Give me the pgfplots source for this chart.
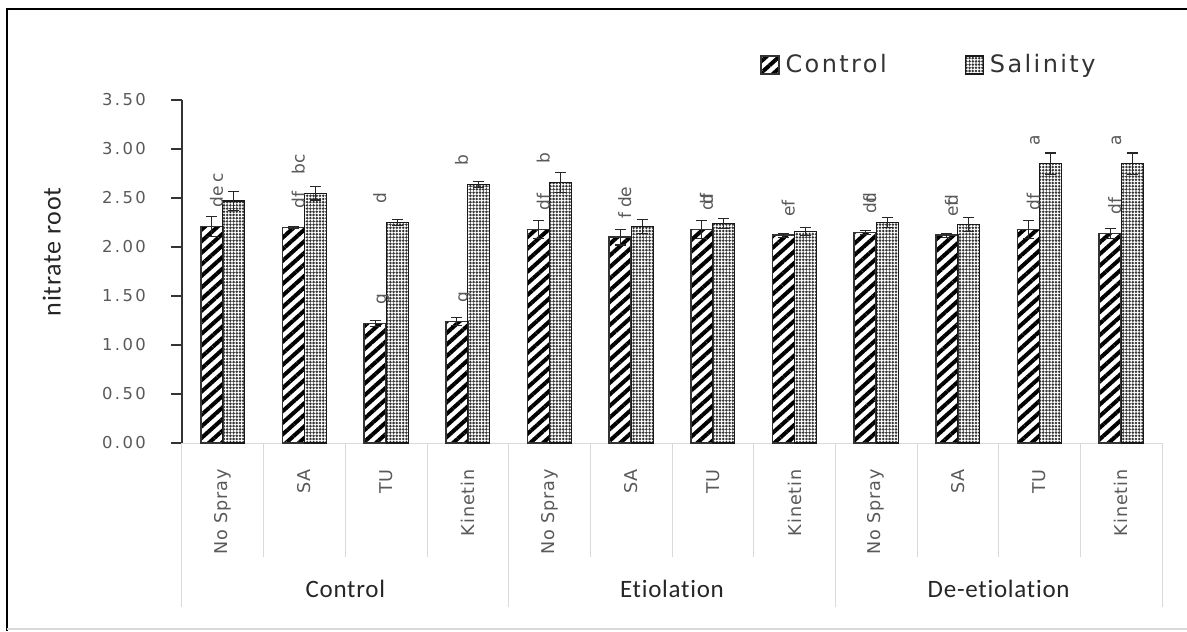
\documentclass[border=0pt]{standalone}
\usepackage{pgfplots}
\pgfplotsset{compat=1.18}
\usepackage{pgfplotstable}
\usepackage{fontspec}
\usetikzlibrary{patterns.meta}
\newfontfamily\tickf[LetterSpace=15]{DejaVu Sans}
\newfontfamily\legf[LetterSpace=10]{DejaVu Sans}
\newfontfamily\letf{DejaVu Sans}
\newfontfamily\catf[LetterSpace=5]{DejaVu Sans}
\newfontfamily\grpf[LetterSpace=3,Ligatures=NoCommon]{Carlito}
\definecolor{txt}{HTML}{595959}
\definecolor{sep}{HTML}{D9D9D9}

\pgfplotstableread{
x y e lab
0 2.21 0.10 de
1 2.20 0.01 df
2 1.22 0.03 g
3 1.24 0.04 g
4 2.18 0.09 df
5 2.10 0.08 f
6 2.18 0.09 df
7 2.12 0.02 ef
8 2.15 0.02 df
9 2.12 0.02 ef
10 2.18 0.09 df
11 2.14 0.05 df
}\ctrl

\pgfplotstableread{
x y e lab
0 2.47 0.10 c
1 2.55 0.07 bc
2 2.25 0.03 d
3 2.64 0.03 b
4 2.66 0.10 b
5 2.21 0.07 de
6 2.24 0.05 d
7 2.16 0.04 {}
8 2.25 0.05 d
9 2.23 0.07 d
10 2.85 0.11 a
11 2.85 0.11 a
}\sal

\begin{document}
\begin{tikzpicture}
\useasboundingbox (-91pt,-94pt) rectangle (502.5pt,221.5pt);
\draw[black, line width=1pt] (-87.5pt,-94pt) -- (-87.5pt,217pt) -- (502.5pt,217pt);
\draw[sep, line width=0.75pt] (-87.5pt,-93pt) -- (502.5pt,-93pt);
\begin{axis}[
  at={(0,0)}, anchor=south west,
  scale only axis, width=490pt, height=171.5pt,
  xmin=-0.5, xmax=11.5, ymin=0, ymax=3.5,
  ybar=0pt, bar width=11pt,
  axis x line*=bottom, axis y line*=left,
  x axis line style={sep, line width=0.5pt},
  y axis line style={black!80, line width=0.6pt},
  xtick={0,...,11},
  xticklabels={No Spray,SA,TU,Kinetin,No Spray,SA,TU,Kinetin,No Spray,SA,TU,Kinetin},
  x tick style={draw=none},
  xticklabel style={yshift=-7.5pt, rotate=90, anchor=east, inner sep=0pt, font=\catf\fontsize{8.8}{10}\selectfont, text=txt},
  ytick={0,0.5,1,1.5,2,2.5,3,3.5},
  y tick style={black!80, line width=0.6pt},
  tick align=outside, major tick length=5.5pt,
  yticklabel style={/pgf/number format/.cd, fixed, fixed zerofill, precision=2, assume math mode=true, /tikz/.cd, font=\tickf\fontsize{8.2}{9}\selectfont, text=txt, xshift=-9pt},
  ylabel={nitrate root},
  every axis y label/.style={at={(axis description cs:-0.133,0.557)}, rotate=90, anchor=center, font=\grpf\fontsize{13}{15}\selectfont, text=black!85},
  clip=false,
  nodes near coords, point meta=explicit symbolic,
  every node near coord/.style={yshift=9pt, rotate=90, anchor=base west, inner sep=0pt, font=\letf\fontsize{8.5}{9}\selectfont, text=txt},
  legend style={draw=none, fill=none, legend columns=2, at={(rel axis cs:0.763,1.102)}, anchor=center, font=\legf\fontsize{12}{14}\selectfont, text=black!80, /tikz/every even column/.append style={column sep=37pt}},
  legend image code/.code={\draw[#1] (0pt,-4.5pt) rectangle (9pt,4.5pt);},
  error bars/error bar style={line width=0.6pt, black!85},
  error bars/error mark options={line width=0.6pt, black!85, mark size=2.75pt, rotate=90},
]
\addplot[draw=black!80, line width=0.75pt, pattern={Lines[angle=42,distance=4.3pt,line width=2pt]}, pattern color=black,
  error bars/.cd, y dir=both, y explicit]
  table[x=x, y=y, y error=e, meta=lab] {\ctrl};
\addlegendentry{\hspace{1pt}Control}
\addplot[draw=black!90, line width=0.6pt, pattern={Dots[distance=1.6pt,radius=0.7pt]}, pattern color=black!80,
  error bars/.cd, y dir=both, y explicit]
  table[x=x, y=y, y error=e, meta=lab] {\sal};
\addlegendentry{\hspace{1pt}Salinity}
\pgfplotsinvokeforeach{0.5,1.5,2.5,4.5,5.5,6.5,8.5,9.5,10.5}{\draw[sep, line width=0.5pt] (axis cs:#1,0) -- ([yshift=-57pt]axis cs:#1,0);}
\pgfplotsinvokeforeach{-0.5,3.5,7.5,11.5}{\draw[sep, line width=0.5pt] (axis cs:#1,0) -- ([yshift=-82pt]axis cs:#1,0);}
\node[font=\grpf\fontsize{12.5}{14}\selectfont, text=black!85, yshift=-73pt] at (axis cs:1.5,0) {Control};
\node[font=\grpf\fontsize{12.5}{14}\selectfont, text=black!85, yshift=-73pt] at (axis cs:5.5,0) {Etiolation};
\node[font=\grpf\fontsize{12.5}{14}\selectfont, text=black!85, yshift=-73pt] at (axis cs:9.5,0) {De-etiolation};
\end{axis}
\end{tikzpicture}
\end{document}
